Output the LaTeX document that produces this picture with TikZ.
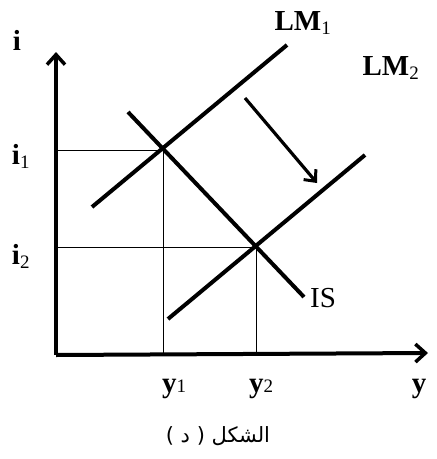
\documentclass[tikz,border=0pt]{standalone}
\usepackage{fontspec}
\setmainfont{Liberation Serif}
\newfontfamily\arabicfont[Script=Arabic]{DejaVu Sans}
\TeXXeTstate=1
\usetikzlibrary{arrows.meta}
\tikzset{
  curve/.style={line width=4pt},
  axis/.style={line width=4pt,-{Straight Barb[length=10pt,width=18pt,line width=3.5pt]}},
  guide/.style={line width=0.8pt},
  shiftarrow/.style={line width=3.2pt,-{Straight Barb[length=9pt,width=16pt,line width=3pt]}},
  lab/.style={font=\fontsize{29}{31}\selectfont\bfseries,inner sep=0pt},
}
\newcommand{\sbn}[1]{{\fontsize{19}{19}\selectfont\mdseries #1}}
\begin{document}
\begin{tikzpicture}[x=1pt,y=-1pt]
\useasboundingbox (0,0) rectangle (437,459);
% points
\coordinate (O) at (56,355);
\coordinate (Itop) at (56,52);
\coordinate (Yend) at (428,353);
\coordinate (E1) at (163,150);
\coordinate (E2) at (256,247);
\coordinate (I1) at (56,150);
\coordinate (I2) at (56,247);
\coordinate (Y1) at (163,355);
\coordinate (Y2) at (256,355);
\coordinate (LMa) at (92,207);
\coordinate (LMb) at (287,45);
\coordinate (LMc) at (168,319);
\coordinate (LMd) at (365,155);
\coordinate (ISa) at (128,112);
\coordinate (ISb) at (304,297);
\coordinate (Aa) at (245,98);
\coordinate (Ab) at (317,183);
% guides
\draw[guide] (I1) -- (E1) -- (Y1);
\draw[guide] (I2) -- (E2) -- (Y2);
% axes
\draw[axis] (O) -- (Itop);
\draw[axis] (O) -- (Yend);
% curves
\draw[curve] (LMa) -- (LMb);
\draw[curve] (LMc) -- (LMd);
\draw[curve] (ISa) -- (ISb);
\draw[shiftarrow] (Aa) -- (Ab);
% labels
\node[lab] (li) at (17,40) {i};
\node[lab] (lm1) at (303,23) {LM\textsubscript{\sbn{1}}};
\node[lab] (lm2) at (391,68) {LM\textsubscript{\sbn{2}}};
\node[lab] (li1) at (21,156) {i\textsubscript{\sbn{1}}};
\node[lab] (li2) at (21,256) {i\textsubscript{\sbn{2}}};
\node[lab,font=\fontsize{29}{31}\selectfont\mdseries] (lis) at (323,298) {IS};
\node[lab] (ly1) at (174,389) {y\sbn{1}};
\node[lab] (ly2) at (261,389) {y\sbn{2}};
\node[lab] (ly) at (419,389) {y};
\node[inner sep=0pt,font=\arabicfont\fontsize{21}{23}\selectfont] (cap) at (218,436) {\beginR الشكل ( د )\endR};
\end{tikzpicture}
\end{document}
